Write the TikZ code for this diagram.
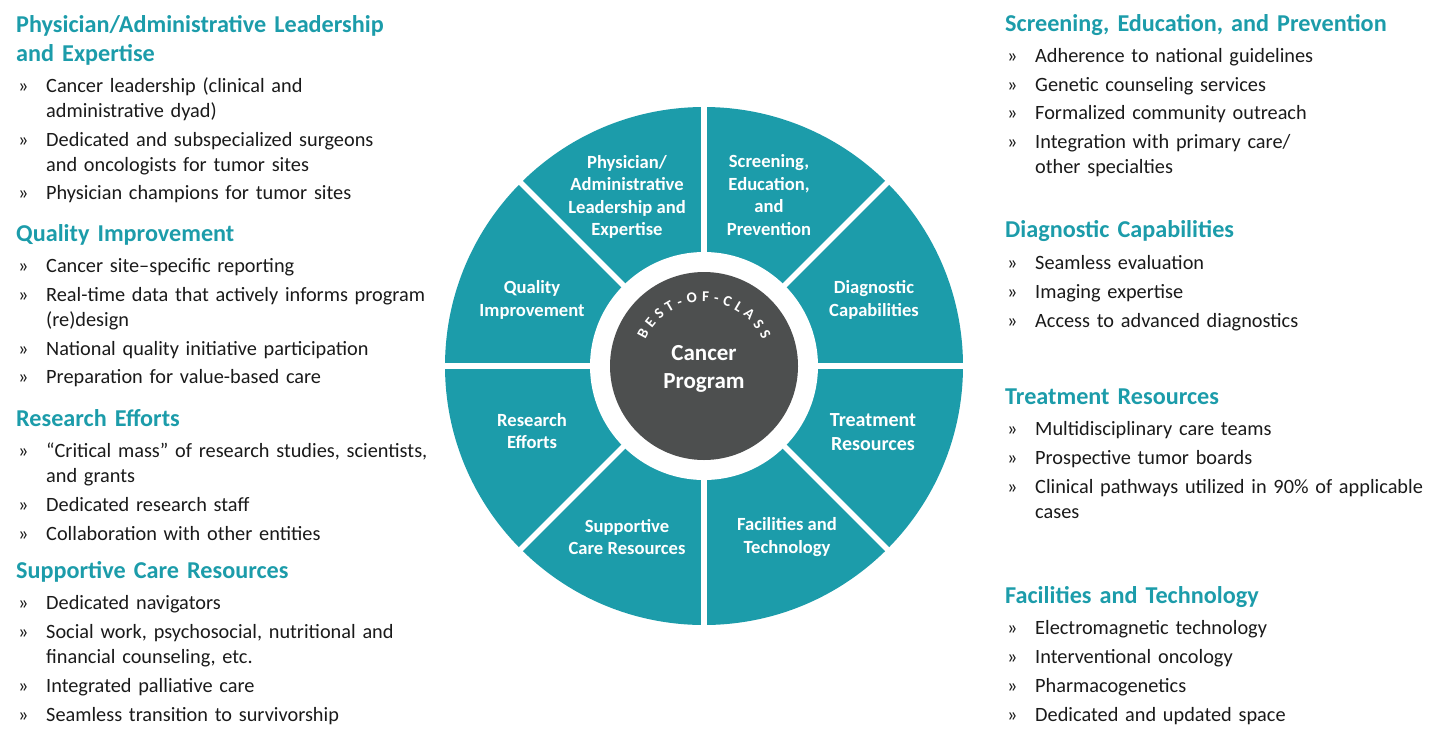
\documentclass[tikz,border=0pt]{standalone}
\usepackage{fontspec}
\setmainfont{Carlito}
\usepackage{tikz}
\usetikzlibrary{decorations.text}
\definecolor{lagoon}{HTML}{1C9CAA}
\definecolor{slate}{HTML}{4D4F4F}
\definecolor{ink}{HTML}{1A1A1A}
\tikzset{
  head/.style={anchor=base west,inner sep=0pt,text width=440pt,align=left,text=lagoon,font=\fontsize{24.2}{29}\selectfont\bfseries},
  itm/.style={anchor=base west,inner sep=0pt,text width=440pt,align=left,text=ink,font=\fontsize{20.3}{25}\selectfont},
  seg/.style={text=white,inner sep=0pt,align=center,font=\fontsize{18.6}{22.5}\selectfont\bfseries},
  spoke/.style={draw=white,line width=5.5pt},
  core/.style={inner sep=0pt,text=white,align=center,font=\fontsize{23}{28}\selectfont\bfseries},
}
\newcommand{\bul}{\makebox[28pt][l]{»}}
\newcommand{\brk}{\\\hspace*{28pt}}
\begin{document}
\begin{tikzpicture}[x=1pt,y=1pt]
  \useasboundingbox (0,0) rectangle (1447,-740);
  % wheel
  \coordinate (c) at (704,-366);
  \fill[lagoon] (c) circle[radius=259pt];
  \foreach \a in {0,45,...,315}
    \draw[spoke] (c) -- ++(\a:262pt);
  \fill[white] (c) circle[radius=114pt];
  \fill[slate] (c) circle[radius=94pt];
  \node[core] (prog) at (704,-369) {Cancer\\Program};
  \path[font=\fontsize{15}{15}\selectfont\bfseries,decorate,decoration={text along path,text align=fit to path,
      text={|\fontsize{15}{15}\selectfont\bfseries\color{white}|BEST-OF-CLASS}},shift={(c)}]
    (156:64pt) arc[start angle=156,end angle=24,radius=64pt];
  \node[seg] (sPal) at (627,-197) {Physician/\\Administrative\\Leadership and\\Expertise};
  \node[seg] (sSep) at (769,-195) {Screening,\\Education,\\and\\Prevention};
  \node[seg] (sQi) at (532,-300) {Quality\\Improvement};
  \node[seg] (sDc) at (874,-300) {Diagnostic\\Capabilities};
  \node[seg] (sRe) at (532,-431) {Research\\Efforts};
  \node[seg,font=\fontsize{20}{24.5}\selectfont\bfseries] (sTr) at (873,-432) {Treatment\\Resources};
  \node[seg] (sSc) at (627,-537) {Supportive\\Care Resources};
  \node[seg] (sFt) at (787,-537) {Facilities and\\Technology};
  % left column
  \node[head] (hPal) at (16,-32) {Physician/Administrative Leadership\\and Expertise};
  \node[itm] (pal1) at (18,-92) {\bul Cancer leadership (clinical and\brk administrative dyad)};
  \node[itm] (pal2) at (18,-146) {\bul Dedicated and subspecialized surgeons\brk and oncologists for tumor sites};
  \node[itm] (pal3) at (18,-199) {\bul Physician champions for tumor sites};
  \node[head] (hQi) at (16,-241) {Quality Improvement};
  \node[itm] (qi1) at (18,-272) {\bul Cancer site–specific reporting};
  \node[itm] (qi2) at (18,-301) {\bul Real-time data that actively informs program\brk (re)design};
  \node[itm] (qi3) at (18,-355) {\bul National quality initiative participation};
  \node[itm] (qi4) at (18,-383) {\bul Preparation for value-based care};
  \node[head] (hRe) at (16,-426) {Research Efforts};
  \node[itm] (re1) at (18,-457) {\bul “Critical mass” of research studies, scientists,\brk and grants};
  \node[itm] (re2) at (18,-511) {\bul Dedicated research staff};
  \node[itm] (re3) at (18,-540) {\bul Collaboration with other entities};
  \node[head] (hSc) at (16,-578) {Supportive Care Resources};
  \node[itm] (sc1) at (18,-609) {\bul Dedicated navigators};
  \node[itm] (sc2) at (18,-638) {\bul Social work, psychosocial, nutritional and\brk financial counseling, etc.};
  \node[itm] (sc3) at (18,-692) {\bul Integrated palliative care};
  \node[itm] (sc4) at (18,-721) {\bul Seamless transition to survivorship};
  % right column
  \node[head] (hSep) at (1005,-31) {Screening, Education, and Prevention};
  \node[itm] (sep1) at (1007,-62) {\bul Adherence to national guidelines};
  \node[itm] (sep2) at (1007,-91) {\bul Genetic counseling services};
  \node[itm] (sep3) at (1007,-119) {\bul Formalized community outreach};
  \node[itm] (sep4) at (1007,-148) {\bul Integration with primary care/\brk other specialties};
  \node[head] (hDc) at (1005,-237) {Diagnostic Capabilities};
  \node[itm] (dc1) at (1007,-269) {\bul Seamless evaluation};
  \node[itm] (dc2) at (1007,-298) {\bul Imaging expertise};
  \node[itm] (dc3) at (1007,-327) {\bul Access to advanced diagnostics};
  \node[head] (hTr) at (1005,-404) {Treatment Resources};
  \node[itm] (tr1) at (1007,-435) {\bul Multidisciplinary care teams};
  \node[itm] (tr2) at (1007,-464) {\bul Prospective tumor boards};
  \node[itm] (tr3) at (1007,-493) {\bul Clinical pathways utilized in 90\% of applicable\brk cases};
  \node[head] (hFt) at (1005,-603) {Facilities and Technology};
  \node[itm] (ft1) at (1007,-634) {\bul Electromagnetic technology};
  \node[itm] (ft2) at (1007,-663) {\bul Interventional oncology};
  \node[itm] (ft3) at (1007,-692) {\bul Pharmacogenetics};
  \node[itm] (ft4) at (1007,-721) {\bul Dedicated and updated space};
\end{tikzpicture}
\end{document}
